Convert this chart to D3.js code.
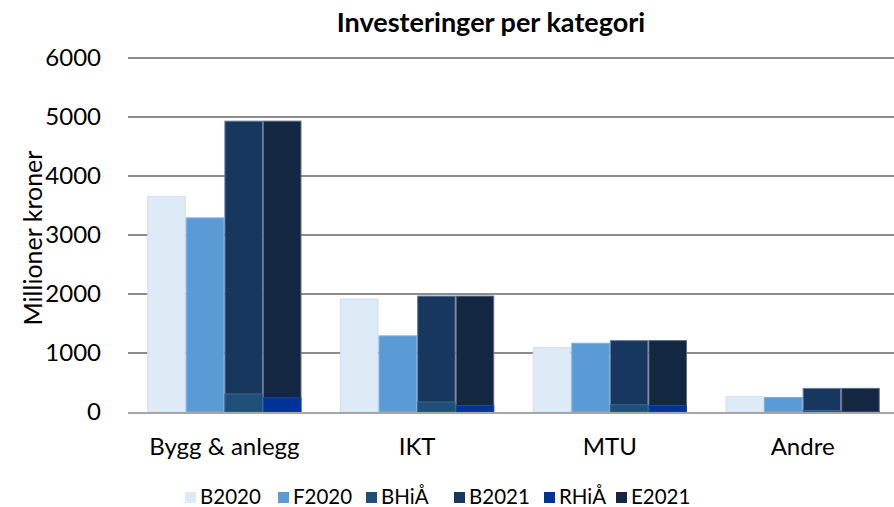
<!DOCTYPE html>
<html>
<head>
<meta charset="utf-8">
<title>Investeringer per kategori</title>
<script src="https://cdn.jsdelivr.net/npm/d3@7"></script>
<style>
    body { margin: 0; background: #fff; }
    text { font-family: Lato, "Open Sans", sans-serif; fill: #000; }
</style>
</head>
<body>
<div id="chart"></div>
<script>
    // data
    var categories = ["Bygg & anlegg", "IKT", "MTU", "Andre"];
    var b2020 = [3650, 1915, 1090, 260];
    var f2020 = [3290, 1290, 1165, 245];
    var bhia  = [305, 170, 125, 25];
    var b2021 = [4930, 1965, 1210, 400];
    var rhia  = [240, 110, 110, 5];
    var e2021 = [4930, 1965, 1210, 400];
    var yTicks = [0, 1000, 2000, 3000, 4000, 5000, 6000];

    var seriesNames = ["B2020", "F2020", "BHiÅ", "B2021", "RHiÅ", "E2021"];
    var colors = {
        "B2020": "#ddebf7", "F2020": "#5b9bd5", "BHiÅ": "#1f4e79",
        "B2021": "#18375f", "RHiÅ": "#00339a", "E2021": "#132642"
    };
    var strokes = {
        "B2020": "#d0dff0", "F2020": "#7aaee0", "BHiÅ": "#3a6690",
        "B2021": "#6a7f9c", "RHiÅ": "#1a47a8", "E2021": "#5c6b82"
    };

    // slot in group each series sits in (BHiÅ / RHiÅ overlap the 2021 bars)
    var slots = {"B2020": 0, "F2020": 1, "B2021": 2, "BHiÅ": 2, "E2021": 3, "RHiÅ": 3};
    var values = {"B2020": b2020, "F2020": f2020, "BHiÅ": bhia, "B2021": b2021, "RHiÅ": rhia, "E2021": e2021};
    var drawOrder = ["B2020", "F2020", "B2021", "BHiÅ", "E2021", "RHiÅ"];

    var width = 894, height = 507;
    var margin = {top: 58, right: 0, bottom: 95, left: 128};

    var svg = d3.select("#chart").append("svg")
        .attr("width", width)
        .attr("height", height);

    // band range runs a little past the right edge, like the reference
    var x = d3.scaleBand()
        .domain(categories)
        .range([margin.left, 899])
        .paddingInner(0.2)
        .paddingOuter(0.1);

    var x1 = d3.scaleBand()
        .domain([0, 1, 2, 3])
        .range([0, x.bandwidth()]);

    var y = d3.scaleLinear()
        .domain([0, 6000])
        .range([412, 58]);

    // gridlines
    svg.append("g")
        .selectAll("line")
        .data(yTicks.filter(function (d) { return d > 0; }))
        .enter().append("line")
        .attr("x1", margin.left)
        .attr("x2", width)
        .attr("y1", function (d) { return y(d); })
        .attr("y2", function (d) { return y(d); })
        .attr("stroke", "#8c8c8c")
        .attr("stroke-width", 2);

    // y tick labels
    svg.append("g")
        .selectAll("text")
        .data(yTicks)
        .enter().append("text")
        .attr("x", 101)
        .attr("y", function (d) { return y(d); })
        .attr("dy", "0.33em")
        .attr("text-anchor", "end")
        .style("font-size", "24px")
        .text(function (d) { return d; });

    // bars
    drawOrder.forEach(function (name) {
        svg.append("g")
            .selectAll("rect")
            .data(values[name])
            .enter().append("rect")
            .attr("x", function (d, i) { return x(categories[i]) + x1(slots[name]) + 0.5; })
            .attr("width", x1.bandwidth() - 1)
            .attr("y", function (d) { return y(d); })
            .attr("height", function (d) { return y(0) - y(d); })
            .attr("fill", colors[name])
            .attr("stroke", strokes[name])
            .attr("stroke-width", 1);
    });

    // baseline
    svg.append("line")
        .attr("x1", margin.left)
        .attr("x2", width)
        .attr("y1", y(0) + 1)
        .attr("y2", y(0) + 1)
        .attr("stroke", "#a6a6a6")
        .attr("stroke-width", 2);

    // category labels
    svg.append("g")
        .selectAll("text")
        .data(categories)
        .enter().append("text")
        .attr("x", function (d) { return x(d) + x.bandwidth() / 2; })
        .attr("y", 455)
        .attr("text-anchor", "middle")
        .style("font-size", "24px")
        .text(function (d) { return d; });

    // title
    svg.append("text")
        .attr("x", 491)
        .attr("y", 32)
        .attr("text-anchor", "middle")
        .style("font-size", "27px")
        .style("font-weight", "bold")
        .text("Investeringer per kategori");

    // y axis label
    svg.append("text")
        .attr("transform", "translate(42,238) rotate(-90)")
        .attr("text-anchor", "middle")
        .style("font-size", "25px")
        .text("Millioner kroner");

    // legend
    var legendX = [185, 278, 366, 454, 544, 616];
    var legend = svg.append("g")
        .selectAll("g")
        .data(seriesNames)
        .enter().append("g")
        .attr("transform", function (d, i) { return "translate(" + legendX[i] + ",492)"; });

    legend.append("rect")
        .attr("width", 11)
        .attr("height", 11)
        .attr("fill", function (d) { return colors[d]; });

    legend.append("text")
        .attr("x", 15)
        .attr("y", 11.5)
        .style("font-size", "20.5px")
        .text(function (d) { return d; });
</script>
</body>
</html>
